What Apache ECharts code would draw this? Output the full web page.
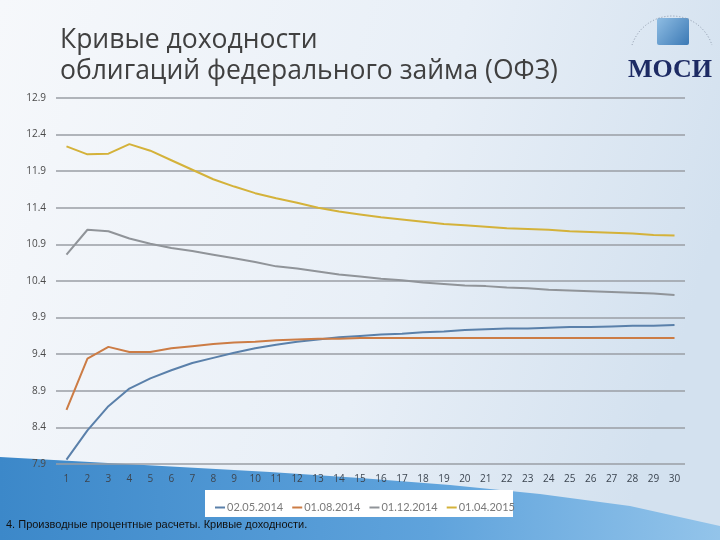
<!DOCTYPE html>
<html>
<head>
<meta charset="utf-8">
<script src="https://cdn.jsdelivr.net/npm/echarts@6/dist/echarts.min.js"></script>
<style>
  html, body { margin: 0; padding: 0; }
  #chart { width: 720px; height: 540px; }
</style>
</head>
<body>
<div id="chart"></div>
<script>
// maturity, years
const years = ['1','2','3','4','5','6','7','8','9','10','11','12','13','14','15',
  '16','17','18','19','20','21','22','23','24','25','26','27','28','29','30'];

const curve020514 = [7.96, 8.36, 8.69, 8.93, 9.07, 9.18, 9.28, 9.35, 9.42, 9.48,
  9.53, 9.57, 9.60, 9.63, 9.65, 9.67, 9.68, 9.70, 9.71, 9.73,
  9.74, 9.75, 9.75, 9.76, 9.77, 9.77, 9.78, 9.79, 9.79, 9.80];
const curve010814 = [8.64, 9.34, 9.50, 9.43, 9.43, 9.48, 9.51, 9.54, 9.56, 9.57,
  9.59, 9.60, 9.61, 9.61, 9.62, 9.62, 9.62, 9.62, 9.62, 9.62,
  9.62, 9.62, 9.62, 9.62, 9.62, 9.62, 9.62, 9.62, 9.62, 9.62];
const curve011214 = [10.76, 11.10, 11.08, 10.98, 10.91, 10.85, 10.81, 10.76, 10.71, 10.66,
  10.60, 10.57, 10.53, 10.49, 10.46, 10.43, 10.41, 10.38, 10.36, 10.34,
  10.33, 10.31, 10.30, 10.28, 10.27, 10.26, 10.25, 10.24, 10.23, 10.21];
const curve010415 = [12.24, 12.13, 12.14, 12.27, 12.18, 12.05, 11.92, 11.79, 11.69, 11.60,
  11.53, 11.47, 11.40, 11.35, 11.31, 11.27, 11.24, 11.21, 11.18, 11.16,
  11.14, 11.12, 11.11, 11.10, 11.08, 11.07, 11.06, 11.05, 11.03, 11.02];

const seriesNames = ['02.05.2014', '01.08.2014', '01.12.2014', '01.04.2015'];
const seriesColors = ['#5a80aa', '#cc7c45', '#909499', '#d4b23a'];
const seriesData = [curve020514, curve010814, curve011214, curve010415];

const chart = echarts.init(document.getElementById('chart'));

chart.setOption({
  backgroundColor: {
    type: 'linear', x: 0, y: 0, x2: 1, y2: 0.4,
    colorStops: [
      { offset: 0, color: '#f6f8fb' },
      { offset: 0.6, color: '#e8eff7' },
      { offset: 1, color: '#d3e1ef' }
    ]
  },
  textStyle: { fontFamily: 'Open Sans' },
  title: {
    text: 'Кривые доходности\nоблигаций федерального займа (ОФЗ)',
    left: 55,
    top: 20,
    textStyle: {
      fontFamily: 'Open Sans',
      fontSize: 26.5,
      fontWeight: 'normal',
      color: '#404040',
      lineHeight: 31
    }
  },
  graphic: [
    {
      type: 'polygon',
      z: -10,
      shape: {
        points: [[0, 457], [90, 462], [180, 467], [270, 472], [360, 478],
          [450, 485], [540, 494], [630, 506], [720, 526], [720, 540], [0, 540]]
      },
      style: {
        fill: {
          type: 'linear', x: 0, y: 0, x2: 1, y2: 0,
          colorStops: [
            { offset: 0, color: '#3c88c9' },
            { offset: 0.6, color: '#5fa3dc' },
            { offset: 1, color: '#93c4ea' }
          ]
        }
      }
    },
    {
      type: 'rect',
      z: -5,
      shape: { x: 205, y: 490, width: 308, height: 27 },
      style: { fill: '#ffffff' }
    },
    {
      type: 'rect',
      z: -5,
      shape: { x: 657, y: 18, width: 32, height: 27, r: 2 },
      style: {
        fill: {
          type: 'linear', x: 0, y: 0, x2: 1, y2: 1,
          colorStops: [
            { offset: 0, color: '#8fbde3' },
            { offset: 1, color: '#3b79b5' }
          ]
        }
      }
    },
    {
      type: 'arc',
      z: -5,
      shape: { cx: 672, cy: 58, r: 42, startAngle: Math.PI * 1.1, endAngle: Math.PI * 1.9 },
      style: { stroke: '#8a96a8', lineWidth: 1, lineDash: [1, 2], fill: null }
    },
    {
      type: 'text',
      z: -5,
      style: {
        text: 'МОСИ',
        x: 670,
        y: 57,
        align: 'center',
        fontFamily: 'Liberation Serif',
        fontWeight: 'bold',
        fontSize: 26,
        fill: '#1d2b64'
      }
    },
    {
      type: 'text',
      style: {
        text: '4. Производные процентные расчеты. Кривые доходности.',
        x: 6,
        y: 519,
        fontFamily: 'Liberation Sans',
        fontSize: 11,
        fill: '#111111'
      }
    }
  ],
  legend: {
    data: seriesNames,
    left: 210,
    top: 497,
    icon: 'rect',
    itemWidth: 10,
    itemHeight: 2,
    itemGap: 9,
    textStyle: { fontSize: 11, color: '#7a7a7a', fontFamily: 'Lato', padding: [0, 0, 0, -3] }
  },
  grid: {
    left: 56,
    right: 35,
    top: 98,
    bottom: 76
  },
  xAxis: {
    type: 'category',
    data: years,
    boundaryGap: true,
    axisLine: { show: false },
    axisTick: { show: false },
    axisLabel: { color: '#3c4550', fontSize: 10, margin: 10 }
  },
  yAxis: {
    type: 'value',
    min: 7.9,
    max: 12.9,
    interval: 0.5,
    axisLine: { show: false },
    axisTick: { show: false },
    axisLabel: {
      color: '#4a4a4a',
      fontSize: 10,
      margin: 10,
      formatter: v => v.toFixed(1)
    },
    splitLine: { lineStyle: { color: '#9a9ea4', width: 1.5 } }
  },
  series: seriesNames.map((name, i) => ({
    name: name,
    type: 'line',
    data: seriesData[i],
    symbol: 'none',
    smooth: false,
    color: seriesColors[i],
    lineStyle: { width: 2, color: seriesColors[i] }
  }))
});
</script>
</body>
</html>
